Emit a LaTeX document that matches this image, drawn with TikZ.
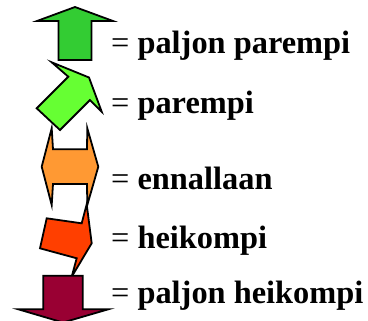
\documentclass[tikz,border=0pt]{standalone}
\usepackage{fontspec}
\setmainfont{Liberation Serif}
\usepackage{tikz}
\usetikzlibrary{positioning}
\definecolor{ppgreen}{HTML}{33CC33}
\definecolor{pgreen}{HTML}{66FF33}
\definecolor{eorange}{HTML}{FF9933}
\definecolor{hred}{HTML}{FF3F00}
\definecolor{phred}{HTML}{990033}
\tikzset{
  arr_n/.style = {draw=black, line width=1.8bp, line join=miter, miter limit=20},
  lbl_n/.style = {anchor=base west, inner sep=0pt, font=\fontsize{32.5}{39}\selectfont\bfseries}
}

\begin{document}
\begin{tikzpicture}[x=1bp,y=1bp]
  \useasboundingbox (0,0) rectangle (368,321);
  % paljon parempi
  \draw[arr_n, fill=ppgreen] (75,314) -- (113,300) -- (91.5,300) -- (91.5,261)
      -- (58.5,261) -- (58.5,300) -- (37,300) -- cycle;
  % parempi
  \draw[arr_n, fill=pgreen] (89,243.5) -- (101.7,209.3) -- (89.9,220.9) -- (60,191)
      -- (36.7,212.7) -- (68.3,244.3) -- (51.7,258.7) -- cycle;
  % ennallaan
  \draw[arr_n, fill=eorange] (41.7,154.3) -- (51.7,192.7) -- (53,171.7) -- (87,171.7)
      -- (87.3,192.7) -- (98.3,154.3) -- (87.3,116) -- (87,137) -- (53,137)
      -- (51.7,116) -- cycle;
  % heikompi
  \draw[arr_n, fill=hred] (91.7,77.7) -- (71.7,44.3) -- (76.7,62.7) -- (40,72.7)
      -- (46.7,102.7) -- (81.7,97.7) -- (86.7,116.7) -- cycle;
  % paljon heikompi
  \draw[arr_n, fill=phred] (63,-1.5) -- (108.3,11.7) -- (82.7,11.7) -- (82.7,45.3)
      -- (43.3,45.3) -- (43.3,11.7) -- (18.3,11.7) -- cycle;

  \node[lbl_n] (txt_pp) at (111,268) {{\mdseries =} paljon parempi};
  \node[lbl_n] (txt_p) at (111,208) {{\mdseries =} parempi};
  \node[lbl_n] (txt_e) at (111,132) {{\mdseries =} ennallaan};
  \node[lbl_n] (txt_h) at (111,73) {{\mdseries =} heikompi};
  \node[lbl_n] (txt_ph) at (111,18) {{\mdseries =} paljon heikompi};
\end{tikzpicture}
\end{document}
